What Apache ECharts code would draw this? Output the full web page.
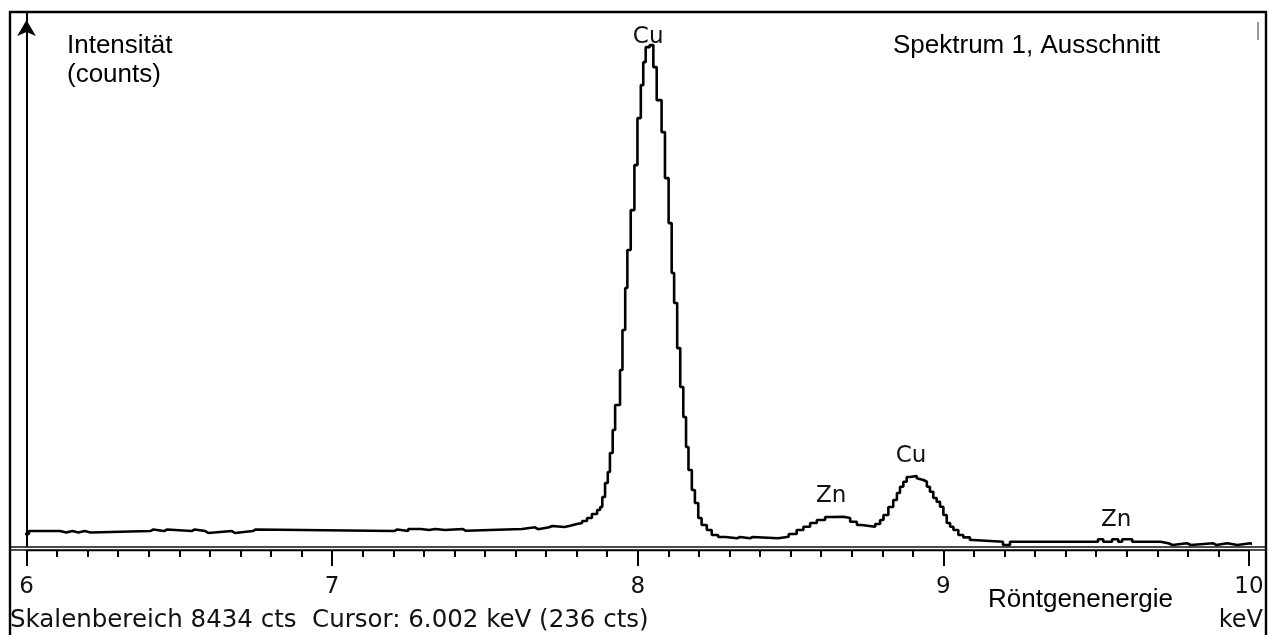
<!DOCTYPE html>
<html>
<head>
<meta charset="utf-8">
<title>Spektrum 1, Ausschnitt</title>
<script src="https://cdn.jsdelivr.net/npm/echarts@6/dist/echarts.min.js"></script>
<style>
html, body { margin: 0; padding: 0; background: #fff; }
#main { width: 1275px; height: 635px; }
</style>
</head>
<body>
<div id="main"></div>
<script>
// Kanalgrenzen (keV) und Zählraten (counts)
var energy = [
  5.946, 5.984, 6.008, 6.110, 6.130, 6.150, 6.170, 6.190, 6.210, 6.405,
  6.415, 6.450, 6.460, 6.540, 6.550, 6.585, 6.595, 6.672, 6.682, 6.740,
  6.750, 7.203, 7.213, 7.249, 7.290, 7.317, 7.337, 7.369, 7.428, 7.438,
  7.621, 7.664, 7.674, 7.710, 7.720, 7.760,
  7.779, 7.801, 7.818, 7.834, 7.850, 7.867, 7.877, 7.884, 7.893, 7.902,
  7.909, 7.918, 7.926, 7.942, 7.950, 7.959, 7.966, 7.977, 7.989, 7.999,
  8.010, 8.018, 8.026, 8.039, 8.051, 8.062, 8.078, 8.089, 8.101, 8.111,
  8.119, 8.129, 8.139, 8.149, 8.158, 8.166, 8.177, 8.187, 8.198, 8.209,
  8.226, 8.242, 8.263, 8.287, 8.325, 8.335, 8.367, 8.377,
  8.459, 8.494, 8.520, 8.542, 8.564, 8.586, 8.613, 8.635, 8.673, 8.695,
  8.717, 8.733, 8.777, 8.793, 8.804, 8.820, 8.836, 8.848, 8.858, 8.869,
  8.880, 8.891, 8.913, 8.918, 8.935, 8.946, 8.956, 8.967, 8.978, 8.989,
  9.000, 9.011, 9.022, 9.033, 9.049, 9.065, 9.087, 9.097, 9.195, 9.218,
  9.506, 9.523, 9.552, 9.572, 9.585, 9.618, 9.710, 9.736, 9.750, 9.797,
  9.810, 9.883, 9.893, 9.929, 9.962, 10.005, 10.020, 10.043, 10.056
];
var counts = [
  232, 190, 236, 214, 236, 214, 236, 214, 236, 260,
  236, 260, 236, 260, 236, 205, 236, 205, 236, 260,
  236, 260, 236, 268, 252, 268, 252, 268, 240, 268,
  295, 265, 295, 315, 300, 320,
  347, 363, 395, 442, 505, 568, 616, 774, 995, 1168,
  1468, 1832, 2226, 2779, 3411, 4074, 4674, 5305, 6016, 6758,
  7279, 7642, 7879, 7911, 7564, 7042, 6537, 5811, 5100, 4311,
  3837, 3126, 2511, 2037, 1563, 1200, 884, 679, 442, 332,
  253, 174, 142, 122, 142, 122, 142, 122,
  147, 190, 253, 305, 363, 411, 458, 463, 442, 384,
  332, 305, 347, 411, 489, 616, 726, 837, 936, 1015,
  1090, 1105, 1070, 1042, 1015, 936, 857, 758, 700, 621,
  489, 363, 305, 253, 174, 137, 95, 68, 16, 68,
  106, 68, 106, 68, 106, 68, 43, 16, 43, 16,
  43, 16, 43, 16, 43, 16, 43, 16, 16
];

// Linienbeschriftungen
var peakNames = ['Cu', 'Zn', 'Cu', 'Zn'];
var peakKeV = [8.034, 8.633, 8.894, 9.565];
var peakCts = [8037, 790, 1421, 411];

var scaleMax = 8434;   // Skalenbereich
var statusText = 'Skalenbereich 8434 cts  Cursor: 6.002 keV (236 cts)';

var myChart = echarts.init(document.getElementById('main'));

var points = energy.map(function (e, i) { return [e, counts[i]]; });
var marks = peakNames.map(function (n, i) {
  return { name: n, coord: [peakKeV[i], peakCts[i]] };
});

var arial = '26px "Liberation Sans", Arial, sans-serif';

option = {
  backgroundColor: '#fff',
  animation: false,
  grid: { left: 26.5, right: 26, top: 12, bottom: 89 },
  xAxis: {
    type: 'value',
    min: 6,
    max: 10,
    interval: 1,
    offset: 4,
    axisLine: { show: true, onZero: false, lineStyle: { color: '#000', width: 1.3 } },
    axisTick: { show: true, length: 16, lineStyle: { color: '#000', width: 2 } },
    minorTick: { show: true, splitNumber: 10, length: 7, lineStyle: { color: '#000', width: 2 } },
    splitLine: { show: false },
    minorSplitLine: { show: false },
    axisLabel: { color: '#111', fontFamily: 'DejaVu Sans', fontSize: 23, margin: 26 }
  },
  yAxis: {
    type: 'value',
    min: 0,
    max: scaleMax,
    axisLine: {
      show: true,
      onZero: false,
      symbol: ['none', 'arrow'],
      symbolSize: [14, 16],
      symbolOffset: [0, -8],
      lineStyle: { color: '#000', width: 2 }
    },
    axisTick: { show: false },
    axisLabel: { show: false },
    splitLine: { show: false }
  },
  series: [{
    type: 'line',
    data: points,
    step: 'end',
    symbol: 'none',
    clip: false,
    lineStyle: { color: '#000', width: 2.6 },
    markPoint: {
      symbol: 'circle',
      symbolSize: 0,
      itemStyle: { color: 'transparent' },
      label: {
        show: true,
        position: 'inside',
        formatter: '{b}',
        color: '#111',
        fontFamily: 'DejaVu Sans',
        fontSize: 23
      },
      data: marks
    }
  }],
  graphic: [
    { type: 'rect', shape: { x: 10, y: 12, width: 1256, height: 700 },
      style: { fill: 'none', stroke: '#000', lineWidth: 2.4 } },
    { type: 'line', shape: { x1: 10, y1: 547, x2: 1266, y2: 547 },
      style: { stroke: '#111', lineWidth: 1.3 } },
    { type: 'line', shape: { x1: 10, y1: 550, x2: 1266, y2: 550 },
      style: { stroke: '#111', lineWidth: 1.3 } },
    { type: 'line', shape: { x1: 1258, y1: 22, x2: 1258, y2: 40 },
      style: { stroke: '#333', lineWidth: 1 } },
    { type: 'text', x: 67, y: 46,
      style: { text: 'Intensität', font: arial, fill: '#000', verticalAlign: 'middle', textVerticalAlign: 'middle' } },
    { type: 'text', x: 67, y: 75,
      style: { text: '(counts)', font: arial, fill: '#000', verticalAlign: 'middle', textVerticalAlign: 'middle' } },
    { type: 'text', x: 893, y: 46,
      style: { text: 'Spektrum 1, Ausschnitt', font: arial, fill: '#000', verticalAlign: 'middle', textVerticalAlign: 'middle' } },
    { type: 'text', x: 988, y: 600,
      style: { text: 'Röntgenenergie', font: arial, fill: '#000', verticalAlign: 'middle', textVerticalAlign: 'middle' } },
    { type: 'text', x: 1263, y: 621,
      style: { text: 'keV', font: '24px "DejaVu Sans"', fill: '#111', align: 'right', textAlign: 'right',
               verticalAlign: 'middle', textVerticalAlign: 'middle' } },
    { type: 'text', x: 10, y: 621,
      style: { text: statusText, font: '24.5px "DejaVu Sans"', fill: '#111', verticalAlign: 'middle', textVerticalAlign: 'middle' } }
  ]
};

myChart.setOption(option);
window.addEventListener('resize', function () { myChart.resize(); });
</script>
</body>
</html>
